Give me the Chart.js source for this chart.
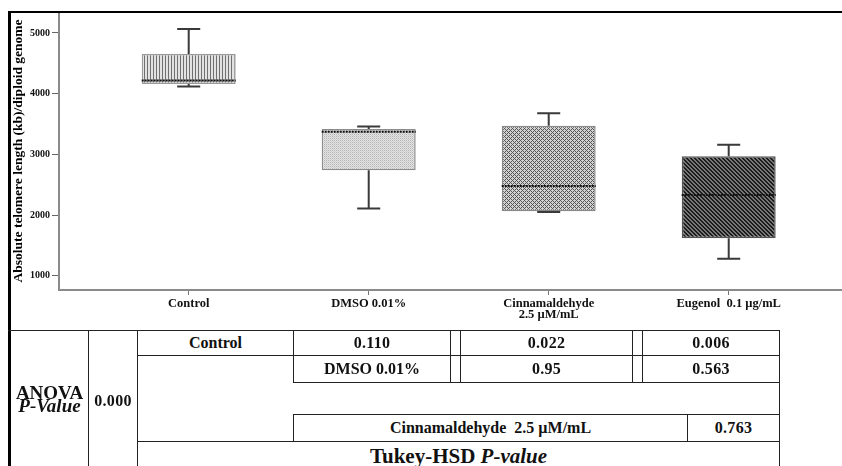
<!DOCTYPE html>
<html>
<head>
<meta charset="utf-8">
<script src="https://cdn.jsdelivr.net/npm/chart.js@4.4.1/dist/chart.umd.min.js"></script>
<style>
  html, body { margin: 0; padding: 0; background: #fff; }
  #wrap { position: relative; width: 842px; height: 466px; overflow: hidden; background: #fff;
          font-family: "Liberation Serif", "Times New Roman", serif; color: #111; }
  #chart { position: absolute; left: 0; top: 0; }
  .ln { position: absolute; background: #222; }
  .frame { position: absolute; background: #000; }
  .cell { position: absolute; display: flex; align-items: center; justify-content: center;
          font-weight: bold; white-space: nowrap; font-size: 16px; }
  .num { font-size: 16px; letter-spacing: 0.3px; }
</style>
</head>
<body>
<div id="wrap">
  <canvas id="chart" width="842" height="330"></canvas>

  <!-- outer frame -->
  <div class="frame" style="left:8px; top:11px; width:834px; height:2px;"></div>
  <div class="frame" style="left:8px; top:11px; width:3px; height:455px;"></div>

  <!-- P-value table rules -->
  <div class="ln" style="left:8px;   top:330px; width:772px; height:1px;"></div>
  <div class="ln" style="left:137px; top:355px; width:643px; height:1px;"></div>
  <div class="ln" style="left:293px; top:382px; width:487px; height:1px;"></div>
  <div class="ln" style="left:293px; top:414px; width:487px; height:1px;"></div>
  <div class="ln" style="left:137px; top:441px; width:643px; height:1px;"></div>

  <div class="ln" style="left:88px;  top:330px; width:1px; height:136px;"></div>
  <div class="ln" style="left:137px; top:330px; width:1px; height:136px;"></div>
  <div class="ln" style="left:293px; top:330px; width:1px; height:52px;"></div>
  <div class="ln" style="left:293px; top:414px; width:1px; height:27px;"></div>
  <div class="ln" style="left:450px; top:330px; width:1px; height:52px;"></div>
  <div class="ln" style="left:460px; top:330px; width:1px; height:52px;"></div>
  <div class="ln" style="left:632px; top:330px; width:1px; height:52px;"></div>
  <div class="ln" style="left:642px; top:330px; width:1px; height:52px;"></div>
  <div class="ln" style="left:687px; top:414px; width:1px; height:27px;"></div>
  <div class="ln" style="left:779px; top:330px; width:1px; height:136px;"></div>

  <!-- table text -->
  <div class="cell" style="left:11px; top:331px; width:77px; height:135px; flex-direction:column; font-size:19px; line-height:13px;">
    <span>ANOVA</span><span style="font-style:italic;">P-Value</span>
  </div>
  <div class="cell num" style="left:89px; top:331px; width:48px; height:140px;">0.000</div>

  <div class="cell" style="left:138px; top:331px; width:155px; height:24px;">Control</div>
  <div class="cell num" style="left:294px; top:331px; width:156px; height:24px;">0.110</div>
  <div class="cell num" style="left:461px; top:331px; width:171px; height:24px;">0.022</div>
  <div class="cell num" style="left:643px; top:331px; width:136px; height:24px;">0.006</div>

  <div class="cell" style="left:294px; top:356px; width:156px; height:26px;">DMSO 0.01%</div>
  <div class="cell num" style="left:461px; top:356px; width:171px; height:26px;">0.95</div>
  <div class="cell num" style="left:643px; top:356px; width:136px; height:26px;">0.563</div>

  <div class="cell" style="left:294px; top:415px; width:393px; height:26px; white-space:pre;">Cinnamaldehyde  2.5 µM/mL</div>
  <div class="cell num" style="left:688px; top:415px; width:91px; height:26px;">0.763</div>

  <div class="cell" style="left:138px; top:442px; width:641px; height:28px; font-size:21px; white-space:pre;">Tukey-HSD <i>P-value</i></div>
</div>

<script>
// Treatment groups shown on the x axis
const categories = ['Control', 'DMSO 0.01%', ['Cinnamaldehyde', '2.5 µM/mL'], 'Eugenol  0.1 µg/mL'];

// Box-plot summary per group (kb / diploid genome)
const whiskerLow  = [4116, 2106, 2049, 1279];
const q1          = [4160, 2737, 2062, 1616];
const median      = [4215, 3374, 2480, 2331];
const q3          = [4654, 3418, 3473, 2967];
const whiskerHigh = [5065, 3460, 3675, 3160];

// y-axis tick values
const yTicks = [1000, 2000, 3000, 4000, 5000];

const SERIF = '"Liberation Serif", "Times New Roman", serif';
const canvas = document.getElementById('chart');
const mainCtx = canvas.getContext('2d');

// Small repeating tiles used as hatch fills for the boxes
function tile(w, h, paint) {
  const c = document.createElement('canvas');
  c.width = w; c.height = h;
  paint(c.getContext('2d'), w, h);
  return mainCtx.createPattern(c, 'repeat');
}

const verticalHatch = tile(3, 1, (g) => {
  g.fillStyle = '#e2e2e2'; g.fillRect(0, 0, 3, 1);
  g.fillStyle = '#707070'; g.fillRect(0, 0, 1, 1);
});
const stipple = tile(2, 2, (g) => {
  g.fillStyle = '#e4e4e4'; g.fillRect(0, 0, 2, 2);
  g.fillStyle = '#b4b4b4'; g.fillRect(0, 0, 1, 1);
  g.fillStyle = '#cdcdcd'; g.fillRect(1, 1, 1, 1);
});
const crossHatch = tile(4, 4, (g) => {
  g.fillStyle = '#d2d2d2'; g.fillRect(0, 0, 4, 4);
  g.fillStyle = '#555555';
  for (let yy = 0; yy < 4; yy++) {
    for (let xx = 0; xx < 4; xx++) {
      if ((xx + yy) % 4 === 0 || ((xx - yy) % 4 + 4) % 4 === 0) g.fillRect(xx, yy, 1, 1);
    }
  }
});
const diagonal = tile(4, 4, (g) => {
  g.fillStyle = '#777777'; g.fillRect(0, 0, 4, 4);
  g.fillStyle = '#1c1c1c';
  for (let yy = 0; yy < 4; yy++) {
    for (let xx = 0; xx < 4; xx++) {
      const d = ((xx - yy) % 4 + 4) % 4;
      if (d === 0 || d === 1) g.fillRect(xx, yy, 1, 1);
    }
  }
});

const boxFills   = [verticalHatch, stipple, crossHatch, diagonal];
const boxBorders = ['#9a9a9a', '#8c8c8c', '#888888', '#555555'];
const capHalf = 0.064;   // half width of whisker caps, in category units

// Whiskers, caps and median lines drawn over the floating-bar boxes
const boxPlotExtras = {
  id: 'boxPlotExtras',
  afterDatasetsDraw(chart) {
    const { ctx, scales: { x, y } } = chart;
    const bars = chart.getDatasetMeta(0).data;
    ctx.save();
    categories.forEach((c, i) => {
      const cx = x.getPixelForValue(i);
      const capL = x.getPixelForValue(i - capHalf);
      const capR = x.getPixelForValue(i + capHalf);
      const yHi = y.getPixelForValue(whiskerHigh[i]);
      const yQ3 = y.getPixelForValue(q3[i]);
      const yQ1 = y.getPixelForValue(q1[i]);
      const yLo = y.getPixelForValue(whiskerLow[i]);

      ctx.setLineDash([]);
      ctx.strokeStyle = '#3a3a3a';
      ctx.lineWidth = 2;
      ctx.beginPath();
      ctx.moveTo(cx, yQ3); ctx.lineTo(cx, yHi);
      ctx.moveTo(capL, yHi); ctx.lineTo(capR, yHi);
      ctx.moveTo(cx, yQ1); ctx.lineTo(cx, yLo);
      ctx.moveTo(capL, yLo); ctx.lineTo(capR, yLo);
      ctx.stroke();

      const b = bars[i];
      const half = b.width / 2;
      const ym = y.getPixelForValue(median[i]);
      ctx.strokeStyle = '#111';
      ctx.lineWidth = 2;
      ctx.setLineDash([2, 1]);
      ctx.beginPath();
      ctx.moveTo(b.x - half, ym);
      ctx.lineTo(b.x + half, ym);
      ctx.stroke();
    });
    ctx.restore();
  }
};

new Chart(mainCtx, {
  type: 'bar',
  data: {
    datasets: [{
      data: categories.map((c, i) => ({ x: i, y: [q1[i], q3[i]] })),
      backgroundColor: boxFills,
      borderColor: boxBorders,
      borderWidth: 1.5,
      borderSkipped: false,
      categoryPercentage: 1,
      barPercentage: 0.522
    }]
  },
  options: {
    responsive: false,
    animation: false,
    devicePixelRatio: 1,
    layout: { padding: { top: 12, left: 0, right: 0, bottom: 0 } },
    plugins: { legend: { display: false }, tooltip: { enabled: false } },
    scales: {
      x: {
        type: 'linear',
        min: -0.7206,
        max: 3.6294,
        offset: false,
        grid: { drawOnChartArea: false, offset: false, tickLength: 5, color: '#777', tickWidth: 1 },
        border: { color: '#8a8a8a', width: 2 },
        afterBuildTicks: (s) => { s.ticks = categories.map((c, i) => ({ value: i })); },
        afterFit: (s) => { s.height = 40; },
        ticks: {
          autoSkip: false,
          maxRotation: 0,
          padding: 3,
          color: '#111',
          font: { family: SERIF, size: 12.5, weight: 'bold', lineHeight: 0.9 },
          callback: (v) => categories[v]
        }
      },
      y: {
        min: 765,
        max: 5345,
        grid: { drawOnChartArea: false, tickLength: 7, color: '#666', tickWidth: 1 },
        border: { color: '#8a8a8a', width: 2 },
        afterBuildTicks: (s) => { s.ticks = yTicks.map((v) => ({ value: v })); },
        afterFit: (s) => { s.width = 59; },
        ticks: {
          padding: 2,
          color: '#111',
          font: { family: SERIF, size: 10, weight: 'bold' },
          callback: (v) => String(v)
        },
        title: {
          display: true,
          text: 'Absolute telomere length (kb)/diploid genome',
          color: '#000',
          font: { family: SERIF, size: 13.5, weight: 'bold' },
          padding: { top: 10, bottom: 0 }
        }
      }
    }
  },
  plugins: [boxPlotExtras]
});
</script>
</body>
</html>
